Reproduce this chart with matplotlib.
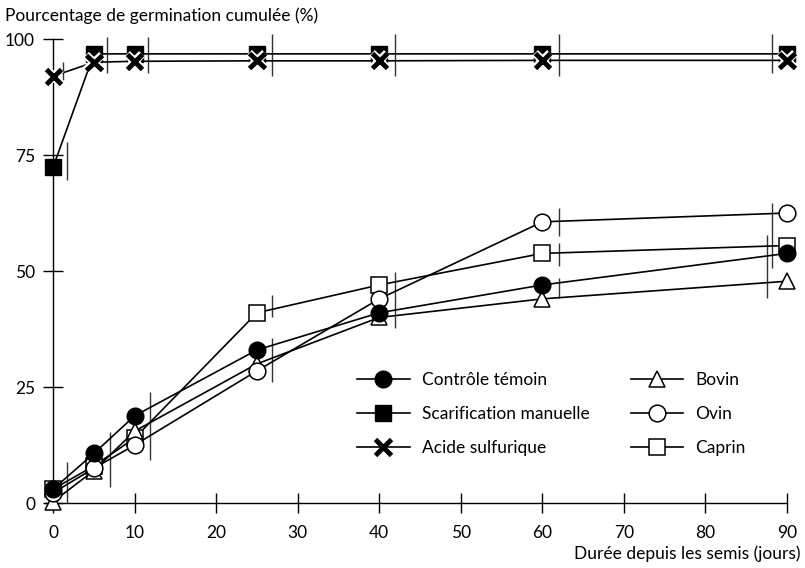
import matplotlib
matplotlib.use("Agg")
import matplotlib.pyplot as plt
import matplotlib.patheffects as pe

plt.rcParams['font.family'] = ['Lato', 'DejaVu Sans']

# days after sowing
days = [0, 5, 10, 25, 40, 60, 90]

# cumulative germination (%)
controle = [3.0, 10.7, 18.8, 33.0, 41.0, 47.0, 53.8]
scarif = [72.4, 96.8, 96.8, 96.8, 96.8, 96.8, 96.8]
acide = [92.0, 95.0, 95.2, 95.3, 95.3, 95.4, 95.4]
bovin = [0.3, 7.0, 15.5, 30.0, 40.0, 44.0, 47.8]
ovin = [2.2, 7.5, 12.5, 28.5, 44.0, 60.6, 62.5]
caprin = [3.0, 8.0, 14.0, 41.0, 47.0, 53.8, 55.5]

# error bars as drawn (slightly offset to the right of the points)
err_x = [1.2, 1.7, 1.7, 6.6, 7.0, 11.6, 11.9, 26.8, 26.8, 26.8,
         41.9, 41.9, 62.0, 62.0, 62.0, 62.0, 88.2, 88.2, 87.6]
err_lo = [91.2, 69.6, 0.0, 92.7, 3.4, 92.7, 9.3, 92.0, 40.0, 26.0,
          92.0, 37.7, 92.0, 57.5, 51.0, 44.2, 92.7, 50.6, 44.2]
err_hi = [95.0, 77.8, 8.8, 100.4, 15.3, 100.4, 24.0, 101.0, 44.8, 35.5,
          101.0, 49.8, 101.0, 63.5, 56.0, 48.5, 101.0, 64.6, 57.7]

fig = plt.figure(figsize=(8.05, 5.68), dpi=100)
ax = fig.add_axes([0.0559, 0.1021, 0.9217, 0.8292])

ax.vlines(err_x, err_lo, err_hi, color='#333333', lw=1.0, zorder=1, clip_on=False)

lw = 1.2
ms = 12
kw = dict(color='black', lw=lw, clip_on=False)
l_bov, = ax.plot(days, bovin, marker='^', ms=ms, mfc='white', mec='black', mew=1.1, zorder=3, **kw)
l_ovi, = ax.plot(days, ovin, marker='o', ms=ms, mfc='white', mec='black', mew=1.1, zorder=3, **kw)
l_cap, = ax.plot(days, caprin, marker='s', ms=ms, mfc='white', mec='black', mew=1.1, zorder=2, **kw)
l_con, = ax.plot(days, controle, marker='o', ms=ms, mfc='black', mec='black', zorder=4, **kw)
l_sca, = ax.plot(days, scarif, marker='s', ms=ms, mfc='black', mec='black', zorder=4, **kw)
ax.plot(days, acide, **kw, zorder=4)
ax.plot(days, acide, ls='none', marker='x', ms=11, mew=3.5, color='black', zorder=5,
        clip_on=False, path_effects=[pe.Stroke(linewidth=6, foreground='white'), pe.Normal()])
l_aci, = ax.plot([], [], marker='x', ms=11, mew=3.5, color='black', lw=lw)

ax.set_xlim(-1, 90)
ax.set_ylim(-1.5, 100)
ax.spines['left'].set_position(('data', 0))
ax.spines['bottom'].set_position(('data', 0))
ax.spines['top'].set_visible(False)
ax.spines['right'].set_visible(False)
for s in ('left', 'bottom'):
    ax.spines[s].set_linewidth(1.0)
ax.set_xticks(range(0, 91, 10))
ax.set_yticks([0, 25, 50, 75, 100])
ax.tick_params(direction='inout', length=14, width=1.0, labelsize=12.5)
ax.tick_params(axis='x', pad=9)
ax.tick_params(axis='y', pad=6)

fig.text(0.006, 0.973, 'Pourcentage de germination cumulée (%)', fontsize=12.5, va='center', ha='left')
fig.text(0.994, 0.026, 'Durée depuis les semis (jours)', fontsize=12.5, va='center', ha='right')

handles = [l_con, l_sca, l_aci, l_bov, l_ovi, l_cap]
labels = ['Contrôle témoin', 'Scarification manuelle', 'Acide sulfurique', 'Bovin', 'Ovin', 'Caprin']
fig.legend(handles, labels, ncol=2, loc='upper left', bbox_to_anchor=(0.444, 0.345),
           frameon=False, fontsize=12.5, handlelength=3.0, handletextpad=0.7,
           columnspacing=2.4, labelspacing=1.05, borderpad=0, borderaxespad=0)

fig.savefig('out.png', dpi=100)
